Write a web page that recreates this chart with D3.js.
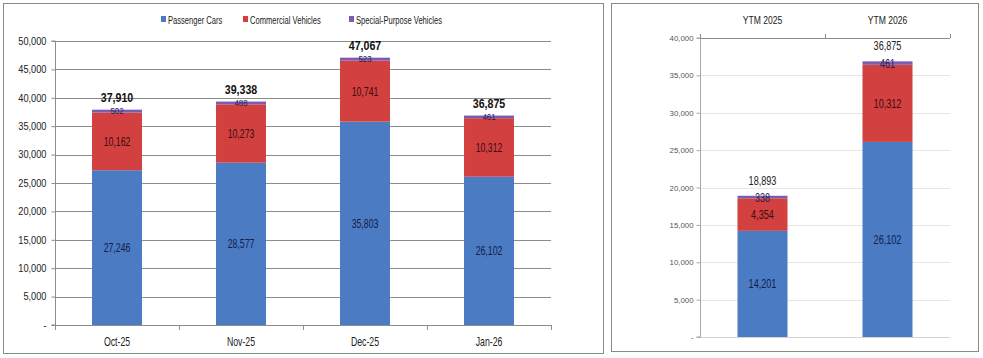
<!DOCTYPE html>
<html>
<head>
<meta charset="utf-8">
<script src="https://cdn.jsdelivr.net/npm/d3@7"></script>
<style>
html,body{margin:0;padding:0;background:#fff;}
svg text{font-family:"Liberation Sans",Arial,sans-serif;}
</style>
</head>
<body>
<svg id="c" width="983" height="358"></svg>
<script>
// ---- data ----
const months = ["Oct-25", "Nov-25", "Dec-25", "Jan-26"];
const passengerCars = [27246, 28577, 35803, 26102];
const commercialVehicles = [10162, 10273, 10741, 10312];
const specialPurpose = [502, 488, 523, 461];
const monthTotals = [37910, 39338, 47067, 36875];

const ytmCategories = ["YTM 2025", "YTM 2026"];
const ytmPassenger = [14201, 26102];
const ytmCommercial = [4354, 10312];
const ytmSpecial = [338, 461];
const ytmTotals = [18893, 36875];

const seriesNames = ["Passenger Cars", "Commercial Vehicles", "Special-Purpose Vehicles"];
const leftTicks = [0, 5000, 10000, 15000, 20000, 25000, 30000, 35000, 40000, 45000, 50000];
const rightTicks = [0, 5000, 10000, 15000, 20000, 25000, 30000, 35000, 40000];

const colors = ["#4a7bc3", "#d2403f", "#7c5cb3"];
const labelColors = ["#13204a", "#3a0c10", "#2a2250"];

const fmt = d3.format(",");
const svg = d3.select("#c");

// ---- panel borders ----
svg.append("rect").attr("x", 3.5).attr("y", 3.5).attr("width", 600).attr("height", 350)
  .attr("fill", "none").attr("stroke", "#8a8a8a").attr("stroke-width", 1);
svg.append("rect").attr("x", 611.5).attr("y", 3.5).attr("width", 367).attr("height", 348)
  .attr("fill", "none").attr("stroke", "#8a8a8a").attr("stroke-width", 1);

function stackRows(cats, a, b, c) {
  return cats.map((k, i) => ({ cat: k, v: [a[i], b[i], c[i]] }));
}

// ================= LEFT CHART =================
(function () {
  const x0 = 55, x1 = 551, yTop = 41, yBot = 325;
  const x = d3.scaleBand().domain(months).range([x0, x1]).paddingInner(0.597).paddingOuter(0.2985);
  const y = d3.scaleLinear().domain([0, 50000]).range([yBot, yTop]);
  const g = svg.append("g");

  g.selectAll("line.grid").data(leftTicks.filter(t => t > 0)).join("line")
    .attr("x1", x0).attr("x2", x1).attr("y1", d => Math.round(y(d)) + 0.5).attr("y2", d => Math.round(y(d)) + 0.5)
    .attr("stroke", "#8c8c8c").attr("stroke-width", 1);

  const yAxis = d3.axisLeft(y).tickValues(leftTicks).tickSize(4).tickFormat(d => d === 0 ? "-" : fmt(d));
  const ya = g.append("g").attr("transform", `translate(${x0 + 0.5},0)`).call(yAxis);
  ya.select(".domain").attr("stroke", "#8c8c8c").attr("d", `M-4,${yTop}H0V${yBot}H-4`);
  ya.selectAll(".tick line").attr("stroke", "#8c8c8c");
  ya.selectAll(".tick text").attr("font-size", 10.5).attr("data-sx", 0.88).attr("fill", "#222").attr("x", -9).attr("font-family", null);

  g.append("line").attr("x1", x0).attr("x2", x1).attr("y1", yBot + 0.5).attr("y2", yBot + 0.5).attr("stroke", "#8c8c8c");
  g.selectAll("line.xt").data(d3.range(months.length + 1)).join("line")
    .attr("x1", i => Math.round(x0 + i * x.step()) + 0.5).attr("x2", i => Math.round(x0 + i * x.step()) + 0.5)
    .attr("y1", yBot).attr("y2", yBot + 5).attr("stroke", "#8c8c8c");
  g.selectAll("text.xl").data(months).join("text")
    .attr("x", d => x(d) + x.bandwidth() / 2).attr("y", 346).attr("text-anchor", "middle")
    .attr("font-size", 12.5).attr("data-sx", 0.7).attr("fill", "#222").text(d => d);

  const rows = stackRows(months, passengerCars, commercialVehicles, specialPurpose);
  const stack = d3.stack().keys([0, 1, 2]).value((d, k) => d.v[k]);
  const layers = stack(rows);
  layers.forEach((layer, k) => {
    const lg = g.append("g");
    lg.selectAll("rect").data(layer).join("rect")
      .attr("x", d => x(d.data.cat)).attr("width", x.bandwidth())
      .attr("y", d => y(d[1])).attr("height", d => y(d[0]) - y(d[1]))
      .attr("fill", colors[k]);
    lg.selectAll("text").data(layer).join("text")
      .attr("x", d => x(d.data.cat) + x.bandwidth() / 2)
      .attr("y", d => y((d[0] + d[1]) / 2) + (k === 2 ? 3 : 4.5))
      .attr("text-anchor", "middle")
      .attr("font-size", k === 2 ? 9 : 12.5)
      .attr("data-sx", k === 2 ? 0.88 : 0.7)
      .attr("fill", labelColors[k])
      .text(d => fmt(d.data.v[k]));
  });

  g.selectAll("text.tot").data(months).join("text")
    .attr("x", d => x(d) + x.bandwidth() / 2)
    .attr("y", (d, i) => y(monthTotals[i]) - 8)
    .attr("text-anchor", "middle").attr("font-size", 12.5).attr("data-sx", 0.85)
    .attr("font-weight", "bold").attr("fill", "#111")
    .text((d, i) => fmt(monthTotals[i]));

  const legX = [161, 243, 349];
  const lgd = g.append("g");
  seriesNames.forEach((n, k) => {
    lgd.append("rect").attr("x", legX[k]).attr("y", 16).attr("width", 5).attr("height", 6).attr("fill", colors[k]);
    lgd.append("text").attr("x", legX[k] + 7).attr("y", 23.5).attr("font-size", 11.5).attr("data-sx", 0.66)
      .attr("fill", "#222").text(n);
  });
})();

// ================= RIGHT CHART =================
(function () {
  const x0 = 700, x1 = 950, yTop = 38, yBot = 337;
  const x = d3.scaleBand().domain(ytmCategories).range([x0, x1]).paddingInner(0.6).paddingOuter(0.3);
  const y = d3.scaleLinear().domain([0, 40000]).range([yBot, yTop]);
  const g = svg.append("g");

  g.selectAll("line.grid").data(rightTicks.filter(t => t > 0 && t < 40000)).join("line")
    .attr("x1", x0).attr("x2", x1).attr("y1", d => Math.round(y(d)) + 0.5).attr("y2", d => Math.round(y(d)) + 0.5)
    .attr("stroke", "#e6e6e6").attr("stroke-width", 1);
  g.append("line").attr("x1", x0).attr("x2", x1).attr("y1", yBot + 0.5).attr("y2", yBot + 0.5).attr("stroke", "#d4d4d4");

  const yAxis = d3.axisLeft(y).tickValues(rightTicks).tickSize(4).tickFormat(d => d === 0 ? "-" : fmt(d));
  const ya = g.append("g").attr("transform", `translate(${x0 + 0.5},0)`).call(yAxis);
  ya.select(".domain").attr("stroke", "#a8a8a8").attr("d", `M-4,${yTop}H0V${yBot}H-4`);
  ya.selectAll(".tick line").attr("stroke", "#a8a8a8");
  ya.selectAll(".tick text").attr("font-size", 8).attr("data-sx", 0.98).attr("fill", "#555").attr("x", -7).attr("font-family", null);

  g.append("line").attr("x1", x0).attr("x2", x1).attr("y1", Math.round(y(40000)) + 0.5).attr("y2", Math.round(y(40000)) + 0.5).attr("stroke", "#8c8c8c");
  g.selectAll("line.xt").data(d3.range(ytmCategories.length + 1)).join("line")
    .attr("x1", i => Math.round(x0 + i * x.step()) + 0.5).attr("x2", i => Math.round(x0 + i * x.step()) + 0.5)
    .attr("y1", yTop).attr("y2", yTop - 4).attr("stroke", "#8c8c8c");
  g.selectAll("text.xl").data(ytmCategories).join("text")
    .attr("x", d => x(d) + x.bandwidth() / 2).attr("y", 24).attr("text-anchor", "middle")
    .attr("font-size", 11).attr("data-sx", 0.78).attr("fill", "#222").text(d => d);

  const rows = stackRows(ytmCategories, ytmPassenger, ytmCommercial, ytmSpecial);
  const stack = d3.stack().keys([0, 1, 2]).value((d, k) => d.v[k]);
  const layers = stack(rows);
  layers.forEach((layer, k) => {
    const lg = g.append("g");
    lg.selectAll("rect").data(layer).join("rect")
      .attr("x", d => x(d.data.cat)).attr("width", x.bandwidth())
      .attr("y", d => y(d[1])).attr("height", d => y(d[0]) - y(d[1]))
      .attr("fill", colors[k]);
    lg.selectAll("text").data(layer).join("text")
      .attr("x", d => x(d.data.cat) + x.bandwidth() / 2)
      .attr("y", d => y((d[0] + d[1]) / 2) + 4.5)
      .attr("text-anchor", "middle")
      .attr("font-size", 12).attr("data-sx", 0.76)
      .attr("fill", labelColors[k])
      .text(d => fmt(d.data.v[k]));
  });

  g.selectAll("text.tot").data(ytmCategories).join("text")
    .attr("x", d => x(d) + x.bandwidth() / 2)
    .attr("y", (d, i) => y(ytmTotals[i]) - 11)
    .attr("text-anchor", "middle").attr("font-size", 12).attr("data-sx", 0.76).attr("fill", "#222")
    .text((d, i) => fmt(ytmTotals[i]));
})();

// ---- condense text horizontally (narrow Calibri-like look) ----
svg.selectAll("text").each(function () {
  const t = d3.select(this);
  const sx = +(t.attr("data-sx") || 0.82);
  const x = +(t.attr("x") || 0), y = +(t.attr("y") || 0);
  t.attr("x", 0).attr("y", 0).attr("transform", `translate(${x},${y}) scale(${sx},1)`);
});
</script>
</body>
</html>
